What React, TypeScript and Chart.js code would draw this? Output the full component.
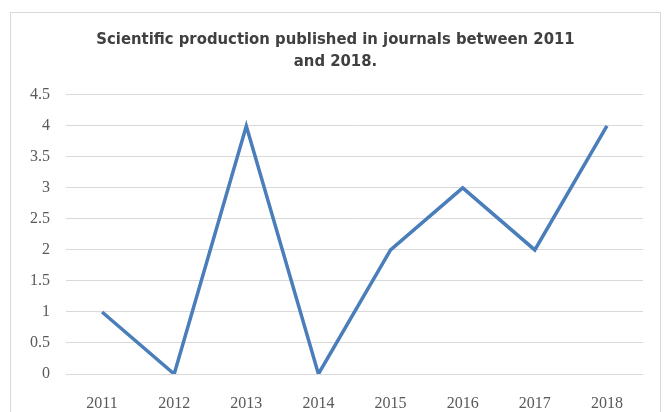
import React, { useEffect, useRef } from "react";
import { Chart, registerables } from "chart.js";

Chart.register(...registerables);

const years = ["2011", "2012", "2013", "2014", "2015", "2016", "2017", "2018"];
const publications = [1, 0, 4, 0, 2, 3, 2, 4];
const titleLines = ["Scientific production published in journals between 2011", "and 2018."];

export default function App() {
  const ref = useRef<HTMLCanvasElement | null>(null);
  useEffect(() => {
    if (!ref.current) return;
    const chart = new Chart(ref.current, {
      type: "line",
      data: {
        labels: years,
        datasets: [
          {
            data: publications,
            borderColor: "#4a7ebb",
            backgroundColor: "#4a7ebb",
            borderWidth: 3.5,
            pointRadius: 0,
            tension: 0,
          },
        ],
      },
      options: {
        animation: false,
        responsive: false,
        maintainAspectRatio: false,
        layout: { padding: { left: 28, right: 24, top: 29, bottom: 0 } },
        plugins: {
          legend: { display: false },
          tooltip: { enabled: false },
          title: {
            display: true,
            text: titleLines,
            color: "#404040",
            font: { family: "'Liberation Sans Narrow', 'DejaVu Sans Condensed', Arial, sans-serif", size: 16.5, weight: "bold", lineHeight: 1.33 },
            padding: { top: 0, bottom: 22 },
          },
        },
        scales: {
          x: {
            offset: true,
            grid: { display: false, drawTicks: false },
            border: { display: false },
            ticks: {
              color: "#595959",
              font: { family: "'Liberation Serif', serif", size: 16 },
              padding: 20,
              maxRotation: 0,
            },
            afterFit: (s: any) => {
              s.height = 38;
            },
          },
          y: {
            min: 0,
            max: 4.5,
            grid: { color: "#d9d9d9", lineWidth: 1, drawTicks: false },
            border: { display: false },
            ticks: {
              stepSize: 0.5,
              color: "#595959",
              font: { family: "'Liberation Serif', serif", size: 16 },
              padding: 16,
              callback: (v: any) => String(v),
            },
            afterFit: (s: any) => {
              s.width = 38;
            },
          },
        },
      },
    });
    return () => chart.destroy();
  }, []);
  return (
    <div style={{ position: "absolute", left: 0, top: 0, width: 667, height: 412, overflow: "hidden", background: "#fff" }}>
      <div
        style={{
          position: "absolute",
          left: 10,
          top: 12,
          width: 651,
          height: 420,
          border: "1px solid #d9d9d9",
          boxSizing: "border-box",
        }}
      />
      <canvas ref={ref} width={667} height={412} style={{ position: "absolute", left: 0, top: 0, width: 667, height: 412 }} />
    </div>
  );
}
